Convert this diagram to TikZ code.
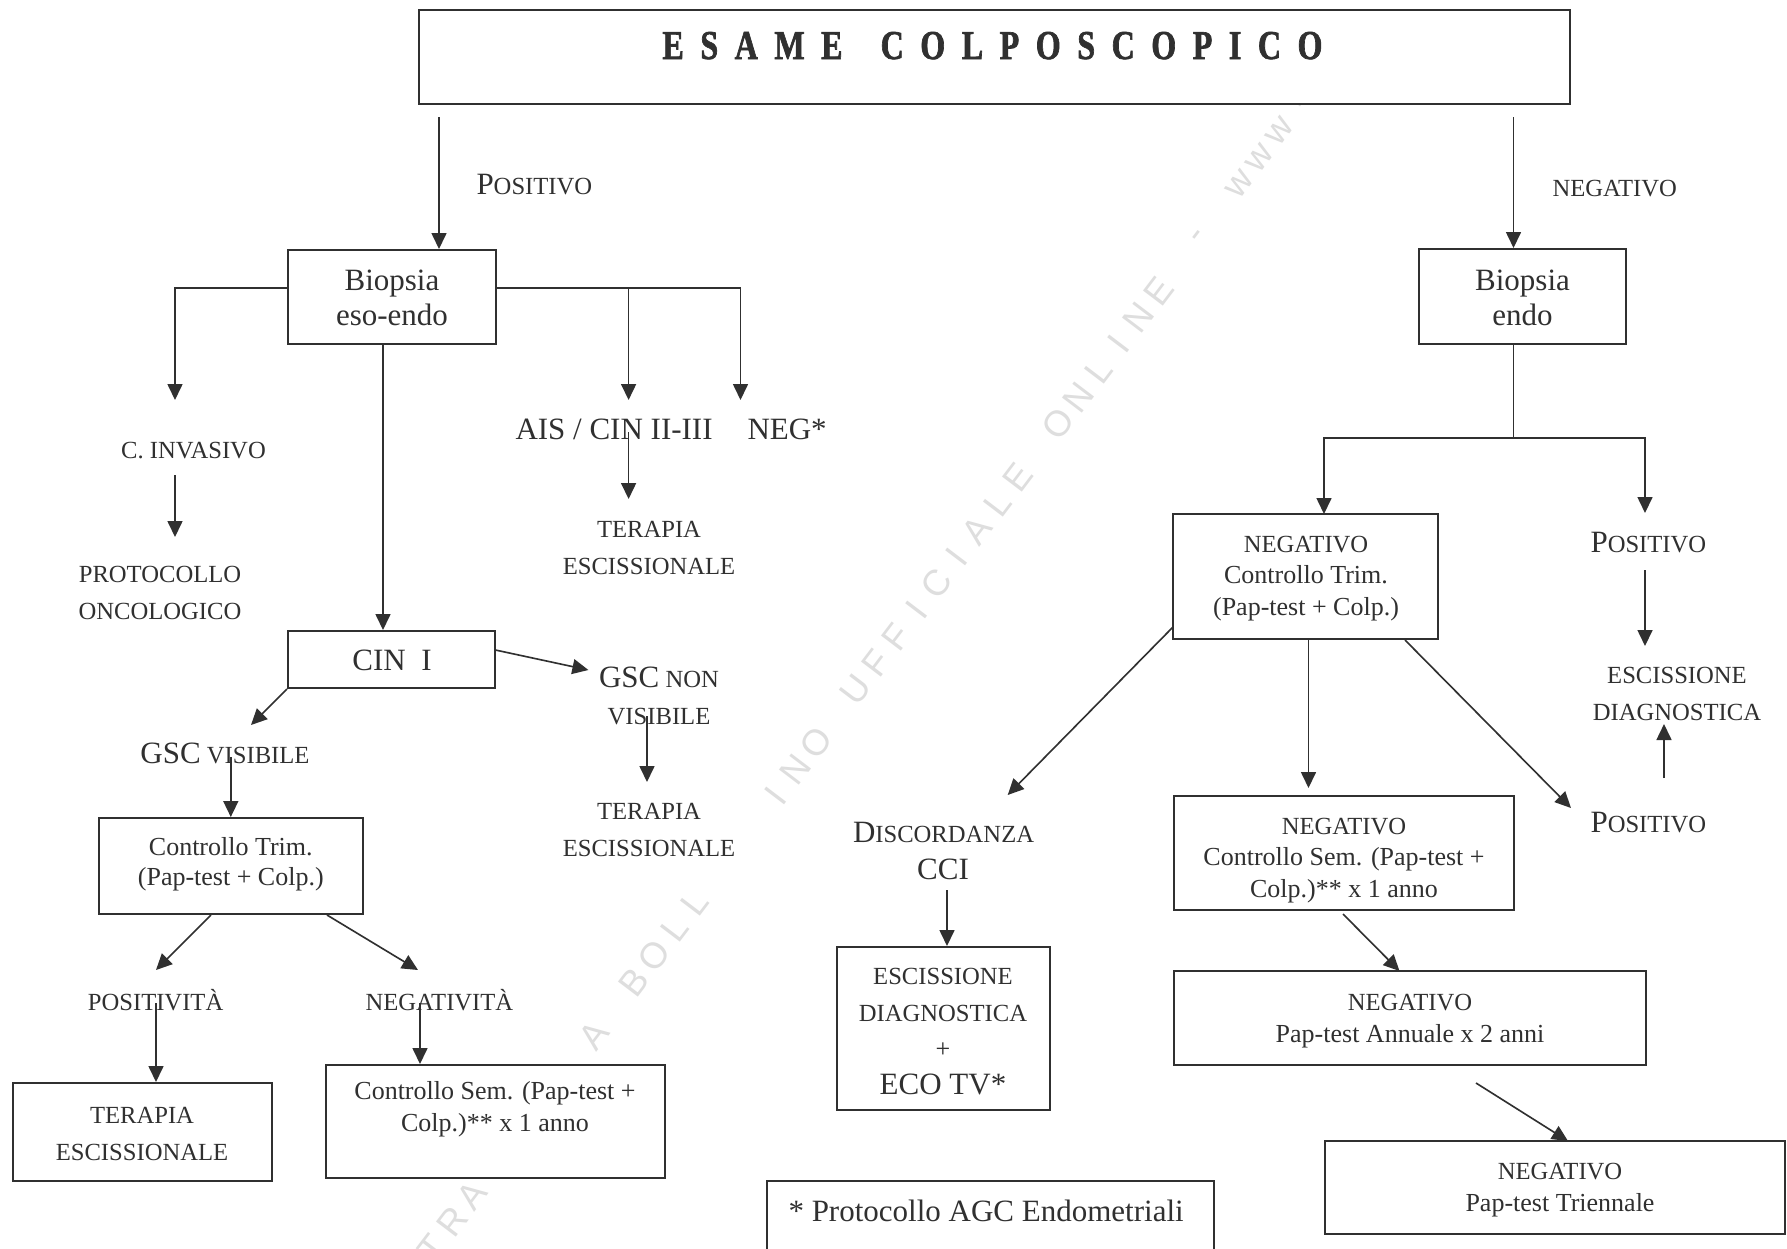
\documentclass[tikz,border=0pt]{standalone}
\usepackage{fontspec}
\setmainfont{Liberation Serif}
\newfontfamily\titlefont[FakeStretch=0.78,FakeBold=1.6]{Liberation Serif Bold}
\newfontfamily\wmfont{Liberation Sans}
\usetikzlibrary{arrows.meta,fit,calc}
\definecolor{ink}{RGB}{48,48,48}
\definecolor{wmgray}{RGB}{222,222,222}
\newcommand\fL{\fontsize{12.4pt}{14pt}\selectfont}
\newcommand\fM{\fontsize{10.4pt}{12.6pt}\selectfont}
\newcommand\fS{\fontsize{9.85pt}{14.6pt}\selectfont}
\tikzset{
  box/.style={draw=ink, line width=0.8pt, fill=white, inner sep=0pt, rectangle},
  txt/.style={inner sep=0pt, anchor=base, align=center, text=ink},
  arr/.style={draw=ink, line width=0.65pt, -{Triangle[width=6pt,length=6.4pt]}},
  ln/.style={draw=ink, line width=0.65pt},
  wm/.style={text=wmgray, font=\wmfont\fontsize{14.5pt}{14.5pt}\selectfont, rotate=52.8, inner sep=0pt},
}
\begin{document}
\begin{tikzpicture}[x=0.4pt,y=-0.4pt]
\useasboundingbox (0,0) rectangle (1787,1248);
\clip (0,0) rectangle (1787,1248);
\fill[white] (0,0) rectangle (1787,1248);

% watermark
\foreach \i/\ch in {0/T,1/R,2/A,3/T,4/T,5/A,8/A,10/B,11/O,12/L,13/L,17/I,18/N,19/O,21/U,22/F,23/F,24/I,25/C,26/I,27/A,28/L,29/E,31/O,32/N,33/L,34/I,35/N,36/E,38/-,40/w,41/w,42/w,43/.}
  \node[wm] (wm\i) at ({452+(\i-1)*20.2},{1222-(\i-1)*26.6}) {\ch};

% title
\node[box, fit={(419,10) (1570,104)}] (title) {};
\node[txt, anchor=base west, font=\titlefont\fontsize{16.4pt}{18pt}\selectfont] (titletxt) at (662,59)
  {\makebox[264pt][l]{E\hfill S\hfill A\hfill M\hfill E\hspace{0pt plus 2.3fill}C\hfill O\hfill L\hfill P\hfill O\hfill S\hfill C\hfill O\hfill P\hfill I\hfill C\hfill O}};

% first level
\node[txt, anchor=base west] (pos1) at (476,194) {{\fL P}{\fS OSITIVO}};
\node[txt, anchor=base west, font=\fS] (neg1) at (1552,196) {NEGATIVO};

\node[box, fit={(288,250) (496,344)}] (bio1) {};
\node[txt, font=\fL] (bio1t) at (392,325) {Biopsia\\eso-endo};
\node[box, fit={(1419,249) (1626,344)}] (bio2) {};
\node[txt, font=\fL] (bio2t) at (1522.5,325) {Biopsia\\endo};

% left part
\node[txt, anchor=base west, font=\fL] (ais) at (515,439) {AIS / CIN II-III};
\node[txt, anchor=base west, font=\fL] (negs) at (747,439) {NEG*};
\node[txt, font=\fS] (ter1) at (649,574) {TERAPIA\\ESCISSIONALE};
\node[txt, font=\fS] (cinv) at (193.5,458) {C. INVASIVO};
\node[txt, font=\fS] (onco) at (160,619) {PROTOCOLLO\\ONCOLOGICO};

\node[box, fit={(288,631) (495.4,688)}] (cin1) {};
\node[txt, font=\fL] (cin1t) at (392,670) {CIN~~I};

\node[txt, font=\fS] (gscn) at (659,724) {{\fL GSC}\ NON\\VISIBILE};
\node[txt, font=\fS] (ter2) at (649,856) {TERAPIA\\ESCISSIONALE};
\node[txt, font=\fS] (gscv) at (225,763) {{\fL GSC}\ VISIBILE};

\node[box, fit={(98.7,818) (362.8,914)}] (ct1) {};
\node[txt, font=\fontsize{10.4pt}{12pt}\selectfont] (ct1t) at (230.8,885) {Controllo Trim.\\(Pap-test + Colp.)};

\node[txt, font=\fS] (posv) at (155.6,1010) {POSITIVITÀ};
\node[txt, font=\fS] (negv) at (439.4,1010) {NEGATIVITÀ};

\node[box, fit={(12.6,1083) (272,1181)}] (ter3) {};
\node[txt, font=\fS] (ter3t) at (142,1160) {TERAPIA\\ESCISSIONALE};
\node[box, fit={(325.5,1065) (664.8,1178)}] (cs1) {};
\node[txt, font=\fontsize{10.4pt}{12.8pt}\selectfont] (cs1t) at (495,1131) {Controllo Sem. (Pap-test +\\Colp.)** x 1 anno};

% right part
\node[box, fit={(1173,514) (1437.5,639)}] (n1) {};
\node[txt, font=\fM] (n1t) at (1306,615) {{\fS NEGATIVO}\\Controllo Trim.\\(Pap-test + Colp.)};
\node[txt, anchor=base west] (pos2) at (1590,552) {{\fL P}{\fS OSITIVO}};
\node[txt, font=\fS] (esc1) at (1677,720) {ESCISSIONE\\DIAGNOSTICA};
\node[txt, anchor=base west] (pos3) at (1590,832) {{\fL P}{\fS OSITIVO}};

\node[txt, anchor=base west] (disc) at (852.5,842) {{\fL D}{\fS ISCORDANZA}};
\node[txt, font=\fL] (cci) at (943,879) {CCI};
\node[box, fit={(837,947) (1049.6,1110)}] (esc2) {};
\node[txt, font=\fS] (esc2t) at (943,1094) {ESCISSIONE\\DIAGNOSTICA\\{\fM +}\\{\fL ECO TV*}};

\node[box, fit={(1174,795.5) (1514,909.5)}] (n2) {};
\node[txt, font=\fM] (n2t) at (1344,897) {{\fS NEGATIVO}\\Controllo Sem. (Pap-test +\\Colp.)** x 1 anno};
\node[box, fit={(1174,971) (1646,1065)}] (n3) {};
\node[txt, font=\fM] (n3t) at (1410,1042) {{\fS NEGATIVO}\\Pap-test Annuale x 2 anni};
\node[box, fit={(1325,1141) (1785,1234)}] (n4) {};
\node[txt, font=\fM] (n4t) at (1560,1211) {{\fS NEGATIVO}\\Pap-test Triennale};

\node[box, fit={(767,1181) (1214,1290)}] (foot) {};
\node[txt, anchor=base west, font=\fL] (foott) at (788,1221) {* Protocollo AGC Endometriali};

% connectors: top
\coordinate (c1a) at (439,117);
\draw[arr] (c1a) -- (c1a |- bio1.north);
\coordinate (c2a) at (1513.5,117);
\draw[arr] (c2a) -- (c2a |- bio2.north);

% Biopsia eso-endo branches
\coordinate (lbs) at (288,288);
\coordinate (lb) at (175,400);
\draw[arr] (lbs) -| (lb);
\coordinate (rbs) at (496,288);
\coordinate (rb1) at (628.6,400);
\coordinate (rb2) at (740.5,400);
\draw[arr] (rbs) -| (rb2);
\draw[arr] (rb1 |- rbs) -- (rb1);
\coordinate (cs) at (383,344);
\draw[arr] (cs) -- (cs |- cin1.north);

\coordinate (a3s) at (628.6,432);
\coordinate (a3e) at (628.6,499);
\draw[arr] (a3s) -- (a3e);
\coordinate (a4s) at (175,475);
\coordinate (a4e) at (175,537);
\draw[arr] (a4s) -- (a4e);

% CIN I
\coordinate (a5s) at (495.4,650);
\coordinate (a5e) at (588.4,670);
\draw[arr] (a5s) -- (a5e);
\coordinate (a6e) at (251,725);
\draw[arr] (cin1.south west) -- (a6e);
\coordinate (a7s) at (647,716);
\coordinate (a7e) at (647,782);
\draw[arr] (a7s) -- (a7e);
\coordinate (a8s) at (230.8,757);
\draw[arr] (a8s) -- (a8s |- ct1.north);

\coordinate (a9s) at (211,915);
\coordinate (a9e) at (156,970);
\draw[arr] (a9s) -- (a9e);
\coordinate (a10s) at (327,915);
\coordinate (a10e) at (418,970);
\draw[arr] (a10s) -- (a10e);
\coordinate (a11s) at (156,1003);
\draw[arr] (a11s) -- (a11s |- ter3.north);
\coordinate (a12s) at (420,1003);
\draw[arr] (a12s) -- (a12s |- cs1.north);

% right side
\coordinate (rs) at (1513.5,438);
\coordinate (rl) at (1324,514);
\coordinate (rr) at (1645,513);
\draw[ln] (rs |- bio2.south) -- (rs);
\draw[arr] (rs) -| (rl);
\draw[arr] (rs) -| (rr);

\coordinate (b1s) at (1645,570);
\coordinate (b1e) at (1645,646);
\draw[arr] (b1s) -- (b1e);
\coordinate (b2s) at (1664,778);
\coordinate (b2e) at (1664,724);
\draw[arr] (b2s) -- (b2e);

\coordinate (d1s) at (1405,640);
\coordinate (d1e) at (1571,808);
\draw[arr] (d1s) -- (d1e);
\coordinate (d2s) at (1173,627);
\coordinate (d2e) at (1007.7,795);
\draw[arr] (d2s) -- (d2e);
\coordinate (d3s) at (1308.5,639);
\coordinate (d3e) at (1308.5,788);
\draw[arr] (d3s) -- (d3e);

\coordinate (e1s) at (947,890);
\draw[arr] (e1s) -- (e1s |- esc2.north);

\coordinate (f1s) at (1343,914);
\coordinate (f1e) at (1399.5,971);
\draw[arr] (f1s) -- (f1e);
\coordinate (f2s) at (1476,1083);
\coordinate (f2e) at (1568,1141);
\draw[arr] (f2s) -- (f2e);
\end{tikzpicture}
\end{document}
